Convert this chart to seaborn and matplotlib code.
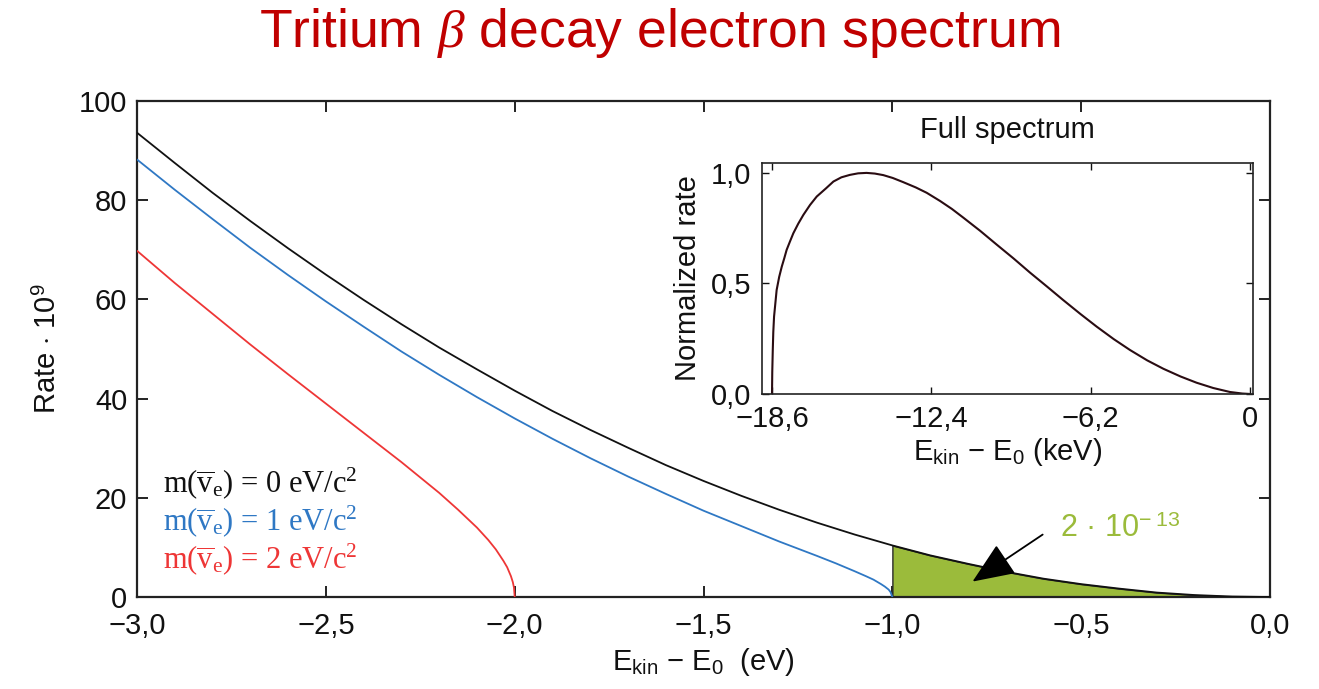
import matplotlib
matplotlib.use("Agg")
import matplotlib.pyplot as plt
import seaborn as sns

# --- Endpoint region: rate (x 1e9) versus E_kin - E0 (eV) for three neutrino masses ---
e_m0 = [-3.0, -2.9, -2.8, -2.7, -2.6, -2.5, -2.4, -2.3, -2.2, -2.1, -2.0,
        -1.9, -1.8, -1.7, -1.6, -1.5, -1.4, -1.3, -1.2, -1.1, -1.0,
        -0.9, -0.8, -0.7, -0.6, -0.5, -0.4, -0.3, -0.2, -0.1, 0.0]
rate_m0 = [93.6, 87.5, 81.5, 75.8, 70.3, 65.0, 59.9, 55.0, 50.3, 45.9, 41.6,
           37.5, 33.7, 30.1, 26.6, 23.4, 20.4, 17.6, 15.0, 12.6, 10.4,
           8.4, 6.7, 5.1, 3.7, 2.6, 1.7, 0.9, 0.4, 0.1, 0.0]

e_m1 = [-3.0, -2.9, -2.8, -2.7, -2.6, -2.5, -2.4, -2.3, -2.2, -2.1, -2.0,
        -1.9, -1.8, -1.7, -1.6, -1.5, -1.4, -1.3, -1.2, -1.15, -1.1,
        -1.07, -1.05, -1.03, -1.02, -1.01, -1.005, -1.0]
rate_m1 = [88.2, 82.1, 76.2, 70.4, 64.9, 59.6, 54.5, 49.5, 44.8, 40.3, 36.0,
           31.9, 28.0, 24.3, 20.8, 17.4, 14.3, 11.2, 8.3, 6.8, 5.2,
           4.2, 3.5, 2.6, 2.1, 1.5, 1.0, 0.0]

e_m2 = [-3.0, -2.9, -2.8, -2.7, -2.6, -2.5, -2.4, -2.3, -2.25, -2.2, -2.15,
        -2.1, -2.07, -2.05, -2.03, -2.02, -2.01, -2.005, -2.002, -2.0]
rate_m2 = [69.8, 63.3, 57.1, 50.9, 44.9, 39.0, 33.1, 27.2, 24.1, 21.0, 17.6,
           14.0, 11.5, 9.6, 7.3, 6.0, 4.2, 3.0, 1.9, 0.0]

mass_labels = [r"m($\overline{\mathrm{v}}_{\mathrm{e}}$) = 0 eV/c$^{2}$",
               r"m($\overline{\mathrm{v}}_{\mathrm{e}}$) = 1 eV/c$^{2}$",
               r"m($\overline{\mathrm{v}}_{\mathrm{e}}$) = 2 eV/c$^{2}$"]
mass_colors = ["#111111", "#2f78c4", "#ee3636"]

x_ticks = [-3.0, -2.5, -2.0, -1.5, -1.0, -0.5, 0.0]
x_ticklabels = ["\u22123,0", "\u22122,5", "\u22122,0", "\u22121,5", "\u22121,0", "\u22120,5", "0,0"]
y_ticks = [0, 20, 40, 60, 80, 100]
y_ticklabels = ["0", "20", "40", "60", "80", "100"]

# fraction of decays within the last 1 eV
fraction_text = "2 \u00b7 10$^{\\mathsf{-\\ 13}}$"

# --- Full spectrum: normalized rate versus E_kin - E0 (keV) ---
full_e = [-18.6, -18.59, -18.57, -18.55, -18.52, -18.47, -18.42, -18.32, -18.22,
          -18.12, -18.03, -17.9, -17.77, -17.58, -17.38, -17.12, -16.86, -16.5,
          -16.21, -15.9, -15.57, -15.25, -14.92, -14.6, -14.27, -13.9, -13.49,
          -13.0, -12.58, -12.06, -11.6, -11.16, -10.5, -9.86, -9.2, -8.56, -7.9,
          -7.27, -6.6, -5.97, -5.3, -4.67, -4.0, -3.37, -2.7, -2.08, -1.43,
          -0.78, -0.3, 0.0]
full_rate = [0.0, 0.1, 0.199, 0.28, 0.35, 0.41, 0.47, 0.53, 0.576,
             0.615, 0.652, 0.69, 0.727, 0.77, 0.81, 0.855, 0.893, 0.93,
             0.961, 0.98, 0.991, 0.998, 1.0, 0.997, 0.99, 0.977, 0.958,
             0.934, 0.91, 0.873, 0.837, 0.798, 0.738, 0.676, 0.613, 0.549, 0.486,
             0.425, 0.362, 0.305, 0.248, 0.199, 0.152, 0.114, 0.079, 0.051, 0.027,
             0.009, 0.002, 0.0]
inset_xticks = [-18.6, -12.4, -6.2, 0.0]
inset_xticklabels = ["\u221218,6", "\u221212,4", "\u22126,2", "0"]
inset_yticks = [0.0, 0.5, 1.0]
inset_yticklabels = ["0,0", "0,5", "1,0"]

sns.set_theme(style="ticks")
plt.rcParams["font.family"] = ["Liberation Sans", "DejaVu Sans"]
plt.rcParams["mathtext.fontset"] = "custom"
plt.rcParams["mathtext.rm"] = "Liberation Serif"
plt.rcParams["mathtext.it"] = "Liberation Serif:italic"
plt.rcParams["mathtext.bf"] = "Liberation Serif:bold"
plt.rcParams["mathtext.sf"] = "Liberation Sans"
plt.rcParams["text.color"] = "#111111"
plt.rcParams["axes.labelcolor"] = "#111111"

fig = plt.figure(figsize=(13.19, 6.89), dpi=100)
ax = fig.add_axes([0.1039, 0.1335, 0.859, 0.7199])

# shaded region: last 1 eV below the endpoint
fill_e = [e for e in e_m0 if e >= -1.0]
fill_r = [r for e, r in zip(e_m0, rate_m0) if e >= -1.0]
ax.fill_between(fill_e, fill_r, 0, facecolor="#9bbb3b", edgecolor="#2a2a2a",
                linewidth=1.0, zorder=1)

for e, r, c in [(e_m2, rate_m2, mass_colors[2]),
                (e_m1, rate_m1, mass_colors[1]),
                (e_m0, rate_m0, mass_colors[0])]:
    sns.lineplot(x=e, y=r, ax=ax, color=c, linewidth=1.3, sort=False, zorder=3)

ax.set_xlim(-3.0, 0.0)
ax.set_ylim(0, 100)
ax.set_xticks(x_ticks)
ax.set_xticklabels(x_ticklabels)
ax.set_yticks(y_ticks)
ax.set_yticklabels(y_ticklabels)
ax.tick_params(direction="in", top=True, right=True, length=8, width=1.3,
               labelsize=21, colors="#111111")
ax.tick_params(axis="x", pad=11)
ax.tick_params(axis="y", pad=7)
for s in ax.spines.values():
    s.set_linewidth(1.6)
    s.set_color("#222222")

ax.set_xlabel("E$_{\\mathsf{kin}}$ \u2212 E$_{\\mathsf{0}}$  (eV)", fontsize=21, labelpad=4)
ax.set_ylabel("Rate $\\mathsf{\\cdot}$ 10$^{\\mathsf{9}}$", fontsize=21, labelpad=12)

for i, (lab, c) in enumerate(zip(mass_labels, mass_colors)):
    ax.text(-2.931, [21.2, 13.5, 5.85][i], lab, color=c, fontsize=22,
            fontfamily="Liberation Serif", va="baseline", ha="left")

ax.annotate("", xy=(-0.794, 2.8), xytext=(-0.596, 12.9),
            arrowprops=dict(arrowstyle="-|>,head_length=1.2,head_width=0.5",
                            color="black", lw=1.3, mutation_scale=22),
            zorder=5)
ax.text(-0.556, 13.7, fraction_text, color="#9bbb3b", fontsize=22,
        va="center", ha="left")

fig.text(0.5, 1 - 33 / 689, "Tritium $\\beta$ decay electron spectrum",
         ha="center", va="center", fontsize=38.5, color="#c00000")

# --- inset with the complete spectrum ---
axin = fig.add_axes([0.5777, 0.4282, 0.3723, 0.3353])
axin.set_facecolor("white")
sns.lineplot(x=full_e, y=full_rate, ax=axin, color="#2a0c12", linewidth=1.5, sort=False)
axin.set_xlim(-18.99, 0.12)
axin.set_ylim(0, 1.045)
axin.set_xticks(inset_xticks)
axin.set_xticklabels(inset_xticklabels)
axin.set_yticks(inset_yticks)
axin.set_yticklabels(inset_yticklabels)
axin.tick_params(direction="in", top=True, right=True, length=5, width=1.0,
                 labelsize=21, colors="#111111")
axin.tick_params(axis="x", pad=8)
axin.tick_params(axis="y", pad=8)
for s in axin.spines.values():
    s.set_linewidth(1.2)
    s.set_color("#222222")
axin.set_xlabel("E$_{\\mathsf{kin}}$ \u2212 E$_{\\mathsf{0}}$ (keV)", fontsize=21, labelpad=2)
axin.set_ylabel("Normalized rate", fontsize=21, labelpad=6)
axin.set_title("Full spectrum", fontsize=21, pad=18)

fig.savefig("out.png", dpi=100)
